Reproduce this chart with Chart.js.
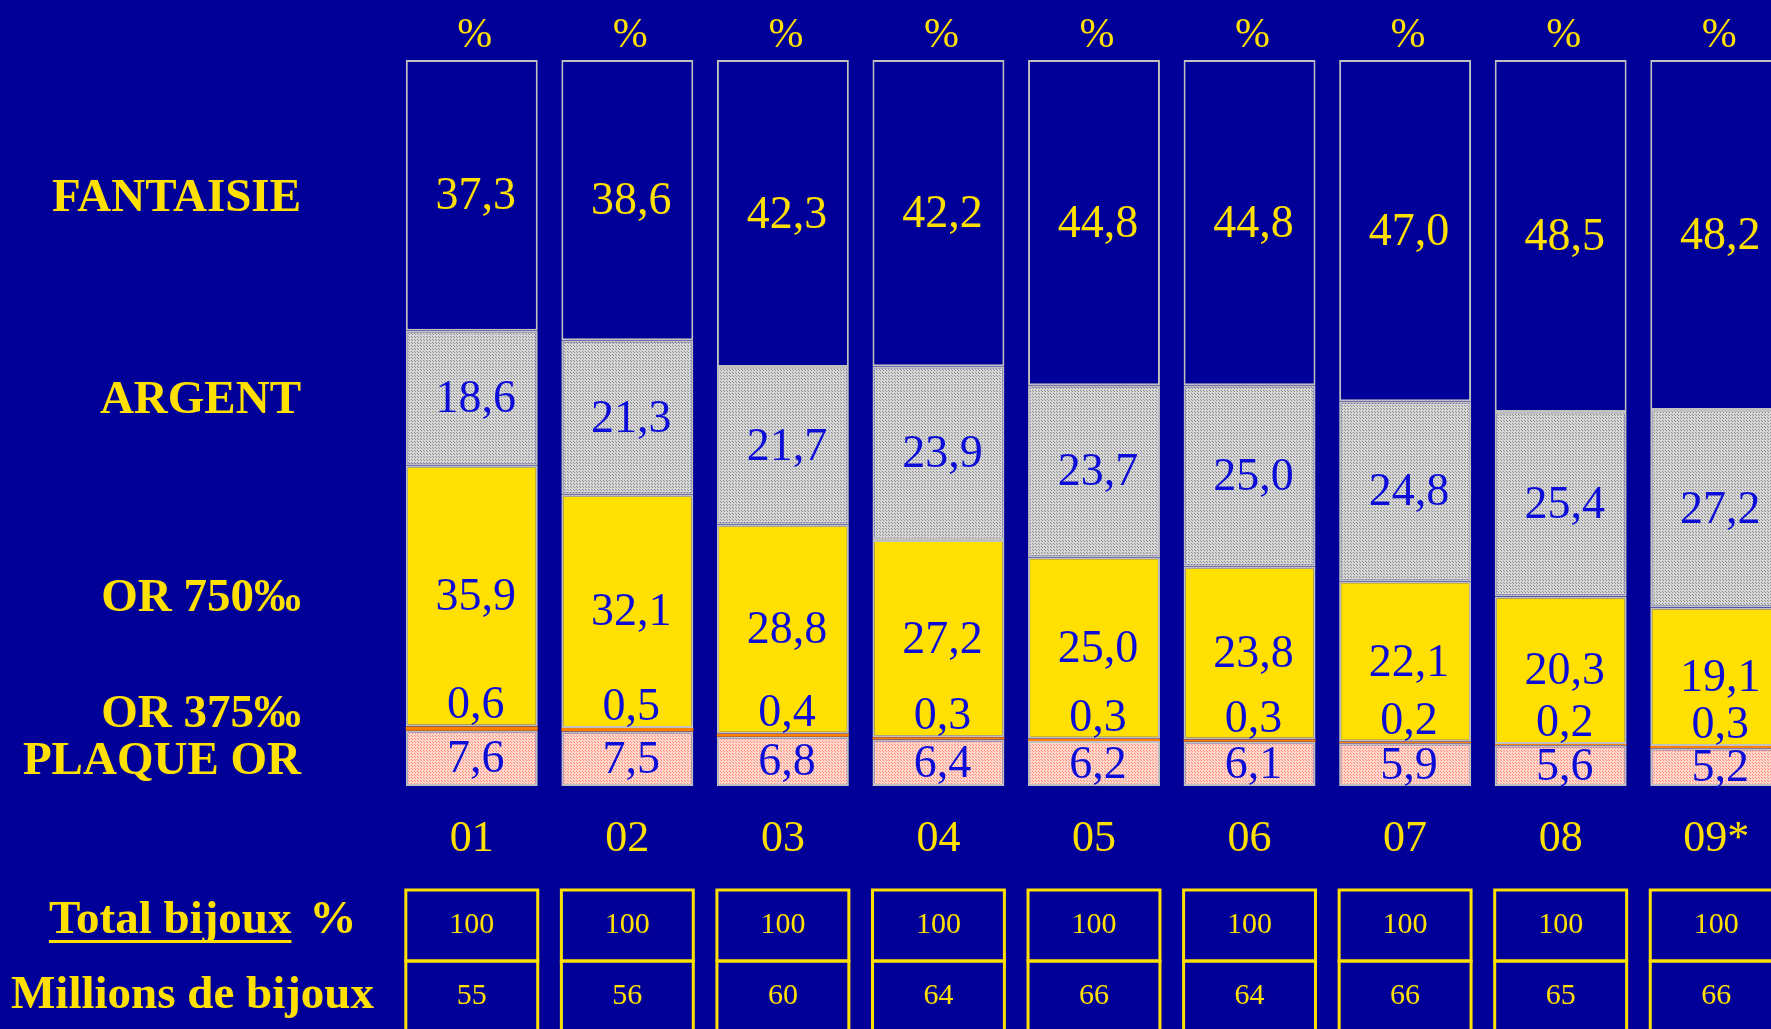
<!DOCTYPE html>
<html>
<head>
<meta charset="utf-8">
<script src="https://cdn.jsdelivr.net/npm/chart.js@4"></script>
<style>
html, body { margin: 0; padding: 0; background: #000099; overflow: hidden; }
#wrap { width: 1771px; height: 1029px; overflow: hidden; }
canvas { display: block; }
</style>
</head>
<body>
<div id="wrap"><canvas id="bijouxChart" width="1800" height="1029"></canvas></div>
<script>
const years = ['01', '02', '03', '04', '05', '06', '07', '08', '09*'];
const plaqueOr = [7.6, 7.5, 6.8, 6.4, 6.2, 6.1, 5.9, 5.6, 5.2];
const or375 = [0.6, 0.5, 0.4, 0.3, 0.3, 0.3, 0.2, 0.2, 0.3];
const or750 = [35.9, 32.1, 28.8, 27.2, 25.0, 23.8, 22.1, 20.3, 19.1];
const argent = [18.6, 21.3, 21.7, 23.9, 23.7, 25.0, 24.8, 25.4, 27.2];
const fantaisie = [37.3, 38.6, 42.3, 42.2, 44.8, 44.8, 47.0, 48.5, 48.2];
const totalBijoux = [100, 100, 100, 100, 100, 100, 100, 100, 100];
const millionsBijoux = [55, 56, 60, 64, 66, 64, 66, 65, 66];

const BG = '#000099';
const YELLOW = '#ffe000';
const BLUE_TXT = '#0c0cd8';
const SERIF = '"Liberation Serif", "Times New Roman", serif';

const ctx = document.getElementById('bijouxChart').getContext('2d');

// petits motifs pointillés (argent gris, plaqué or rose)
function makePattern(base, dot) {
    const c = document.createElement('canvas');
    c.width = 3;
    c.height = 3;
    const g = c.getContext('2d');
    g.fillStyle = base;
    g.fillRect(0, 0, 3, 3);
    g.fillStyle = dot;
    g.fillRect(0, 0, 1, 1);
    g.fillRect(1, 1, 1, 1);
    return ctx.createPattern(c, 'repeat');
}

const fmt = v => v.toFixed(1).replace('.', ',');

const segmentLabels = {
    id: 'segmentLabels',
    beforeDraw(chart) {
        const c = chart.ctx;
        c.save();
        c.fillStyle = BG;
        c.fillRect(0, 0, chart.width, chart.height);
        c.restore();
    },
    afterDraw(chart) {
        const c = chart.ctx;
        const area = chart.chartArea;
        c.save();

        // valeurs dans les segments
        c.font = '46px ' + SERIF;
        c.textAlign = 'center';
        chart.data.datasets.forEach((ds, i) => {
            chart.getDatasetMeta(i).data.forEach((bar, j) => {
                c.fillStyle = ds.labelColor;
                const txt = fmt(ds.data[j]);
                if (ds.aboveSegment) {
                    c.textBaseline = 'alphabetic';
                    c.fillText(txt, bar.x + 4, bar.y - 8);
                } else {
                    c.textBaseline = 'middle';
                    c.fillText(txt, bar.x + 4, (bar.y + bar.base) / 2 + 2);
                }
            });
        });

        // % au-dessus des colonnes
        const firstMeta = chart.getDatasetMeta(0).data;
        c.fillStyle = YELLOW;
        c.font = '42px ' + SERIF;
        c.textBaseline = 'middle';
        firstMeta.forEach(bar => c.fillText('%', bar.x + 3, area.top - 24));

        // noms des séries à gauche, alignés sur la 1re colonne
        c.font = 'bold 47px ' + SERIF;
        c.textAlign = 'right';
        chart.data.datasets.forEach((ds, i) => {
            const bar = chart.getDatasetMeta(i).data[0];
            const y = ds.aboveSegment ? bar.y - 12 : (bar.y + bar.base) / 2 + 3;
            c.fillText(ds.label, 301, y);
        });

        // tableau du bas
        c.strokeStyle = YELLOW;
        c.lineWidth = 3;
        firstMeta.forEach((bar, j) => {
            const left = bar.x - bar.width / 2;
            c.strokeRect(left, 890, bar.width, 71);
            c.strokeRect(left, 961, bar.width, 71);
            c.font = '30px ' + SERIF;
            c.textAlign = 'center';
            c.fillText(String(totalBijoux[j]), bar.x, 925);
            c.fillText(String(millionsBijoux[j]), bar.x, 996);
        });

        c.font = 'bold 47px ' + SERIF;
        c.textAlign = 'left';
        const t = 'Total bijoux';
        const w = c.measureText(t).width;
        c.fillText(t, 49, 921);
        c.fillRect(49, 940, w, 3);
        c.fillText('%', 49 + w + 18, 921);
        c.fillText('Millions de bijoux', 11, 996);

        c.restore();
    }
};

const bijouxChart = new Chart(ctx, {
    type: 'bar',
    data: {
        labels: years,
        datasets: [
            {
                label: 'PLAQUE OR',
                data: plaqueOr,
                backgroundColor: makePattern('#ffd6cc', '#ff8a78'),
                labelColor: BLUE_TXT
            },
            {
                label: 'OR 375‰',
                data: or375,
                backgroundColor: '#ff8000',
                borderWidth: 0,
                labelColor: BLUE_TXT,
                aboveSegment: true
            },
            {
                label: 'OR 750‰',
                data: or750,
                backgroundColor: YELLOW,
                labelColor: BLUE_TXT
            },
            {
                label: 'ARGENT',
                data: argent,
                backgroundColor: makePattern('#d6d6d6', '#8c8c8c'),
                labelColor: BLUE_TXT
            },
            {
                label: 'FANTAISIE',
                data: fantaisie,
                backgroundColor: BG,
                labelColor: YELLOW
            }
        ]
    },
    options: {
        responsive: false,
        animation: false,
        events: [],
        layout: {
            padding: { left: 394, top: 60, right: 6, bottom: 0 }
        },
        datasets: {
            bar: {
                categoryPercentage: 1,
                barPercentage: 0.848,
                borderColor: '#c0c0c0',
                borderWidth: 2,
                borderSkipped: false
            }
        },
        plugins: {
            legend: { display: false },
            tooltip: { enabled: false }
        },
        scales: {
            x: {
                stacked: true,
                grid: { display: false },
                border: { display: false },
                ticks: {
                    color: YELLOW,
                    font: { family: SERIF, size: 44 },
                    padding: 19,
                    maxRotation: 0,
                    autoSkip: false
                },
                afterFit(scale) {
                    scale.height = 243;
                }
            },
            y: {
                stacked: true,
                display: false,
                min: 0,
                max: 100
            }
        }
    },
    plugins: [segmentLabels]
});
</script>
</body>
</html>
